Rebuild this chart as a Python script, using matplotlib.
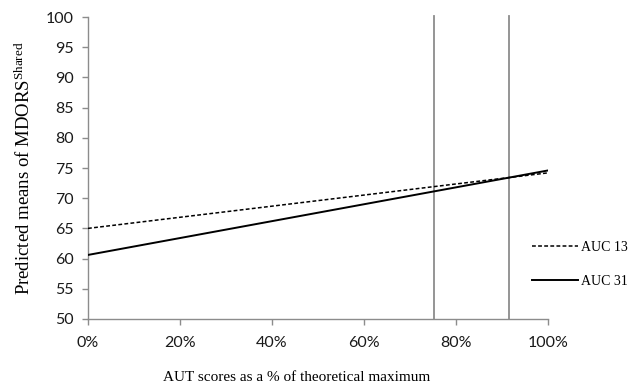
import matplotlib
matplotlib.use("Agg")
import matplotlib.pyplot as plt
from matplotlib.ticker import PercentFormatter

# AUT score as a fraction of theoretical maximum, and predicted MDORS means
aut = [0.0, 1.0]
auc13 = [65.0, 74.2]
auc31 = [60.6, 74.6]
# region-of-significance bounds
bounds = [0.752, 0.915]

xticks = [0, 0.2, 0.4, 0.6, 0.8, 1.0]
yticks = list(range(50, 101, 5))

GREY = "#8c8c8c"
SERIF = "Liberation Serif"
TICKFONT = "Lato"

fig = plt.figure(figsize=(6.33, 3.88), dpi=100)
ax = fig.add_axes([0.139, 0.178, 0.727, 0.778])

for b in bounds:
    ax.axvline(b, ymin=0, ymax=1.005, color=GREY, lw=1.3, zorder=1, clip_on=False)

ax.plot(aut, auc13, color="black", lw=1.1, ls=(0, (2.5, 1.5)), label="AUC 13", zorder=3)
ax.plot(aut, auc31, color="black", lw=1.4, label="AUC 31", zorder=3)

ax.set_xlim(0, 1.0)
ax.set_ylim(50, 100)
ax.set_xticks(xticks)
ax.set_yticks(yticks)
ax.xaxis.set_major_formatter(PercentFormatter(1.0, decimals=0))

for s in ("top", "right"):
    ax.spines[s].set_visible(False)
for s in ("left", "bottom"):
    ax.spines[s].set_color(GREY)
    ax.spines[s].set_linewidth(1.0)
ax.tick_params(colors=GREY, length=4.5, width=1.0, labelcolor="#1a1a1a",
               labelsize=11.5, pad=6)
ax.tick_params(axis="x", pad=8)
for lab in ax.get_xticklabels() + ax.get_yticklabels():
    lab.set_family(TICKFONT)

ax.set_xlabel("AUT scores as a % of theoretical maximum", family=SERIF, fontsize=11)
ax.xaxis.set_label_coords(0.454, -0.172)
ax.set_ylabel(r"Predicted means of MDORS$\mathregular{^{Shared}}$", family=SERIF,
              fontsize=13.5, labelpad=8)

leg = ax.legend(loc="center left", bbox_to_anchor=(0.965, 0.18), frameon=False,
                prop={"family": SERIF, "size": 10}, handlelength=3.3,
                handletextpad=0.2, labelspacing=1.5, borderpad=0,
                borderaxespad=0)

fig.savefig("out.png", dpi=100)
